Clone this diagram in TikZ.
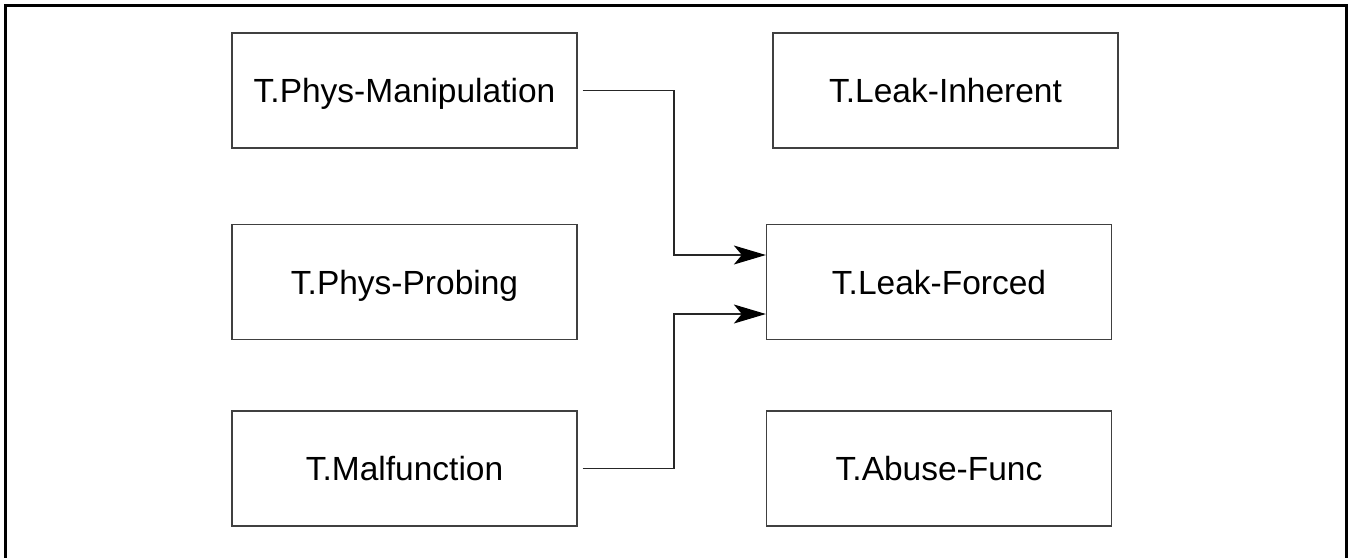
\documentclass[tikz,border=0pt]{standalone}
\usepackage{fontspec}
\setmainfont{Liberation Sans}
\usetikzlibrary{arrows.meta}
\begin{document}
\begin{tikzpicture}[x=1pt,y=-1pt,
  box/.style={draw=black!75,line width=1.3pt,minimum width=345pt,minimum height=115pt,inner sep=0pt,text height=24pt,text depth=0pt,font=\fontsize{33.5}{38}\selectfont,text=black},
  conn/.style={draw=black!85,line width=1.1pt,-{Stealth[length=32pt,width=19pt,inset=8pt,black]}}]
\useasboundingbox (0,0) rectangle (1354,557);
\draw[line width=3pt] (5,562) -- (5,5) -- (1346,5) -- (1346,562);
\node[box] (pm) at (404.5,90.5) {T.Phys-Manipulation};
\node[box] (pp) at (404.5,282) {T.Phys-Probing};
\node[box] (mf) at (404.5,468.5) {T.Malfunction};
\node[box] (li) at (945.5,90.5) {T.Leak-Inherent};
\node[box] (lf) at (939,282) {T.Leak-Forced};
\node[box] (af) at (939,468.5) {T.Abuse-Func};
\coordinate (s1) at ([xshift=5pt]pm.east);
\coordinate (s2) at ([xshift=5pt]mf.east);
\coordinate (e1) at ([yshift=27pt]lf.west);
\coordinate (e2) at ([yshift=-32pt]lf.west);
\draw[conn] (s1) -- (674,90.5) -- (674,255) -- (e1);
\draw[conn] (s2) -- (674,468.5) -- (674,314) -- (e2);
\end{tikzpicture}
\end{document}
